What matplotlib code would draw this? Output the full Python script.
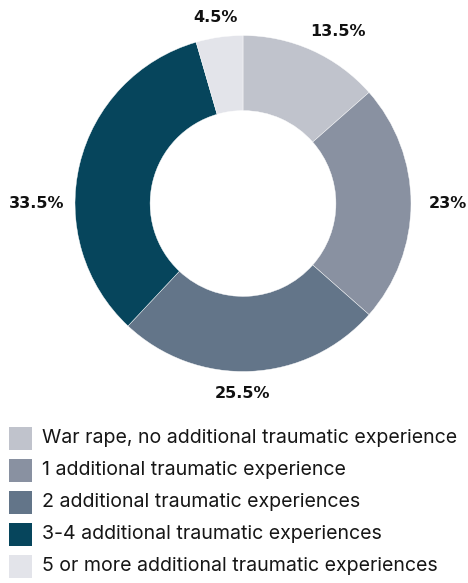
import matplotlib.pyplot as plt
import numpy as np
from matplotlib.patches import Rectangle

# Share of respondents by number of additional traumatic experiences
categories = [
    "War rape, no additional traumatic experience",
    "1 additional traumatic experience",
    "2 additional traumatic experiences",
    "3-4 additional traumatic experiences",
    "5 or more additional traumatic experiences",
]
shares = [13.5, 23, 25.5, 33.5, 4.5]
value_labels = ["13.5%", "23%", "25.5%", "33.5%", "4.5%"]
colors = ["#c0c3cc", "#8991a1", "#637589", "#06455c", "#e3e4ea"]

# label placement (angle in degrees, radius relative to outer ring)
label_angles = [61, 0, -90, 180, 98.5]
label_radius = [1.17, 1.22, 1.13, 1.23, 1.12]

W, H = 468, 583
fig = plt.figure(figsize=(W / 100, H / 100), dpi=100)

cx, cy, R = 243, 203.5, 168
ax = fig.add_axes([(cx - R) / W, (H - cy - R) / H, 2 * R / W, 2 * R / H])
ax.pie(
    shares,
    colors=colors,
    startangle=90,
    counterclock=False,
    radius=1,
    wedgeprops=dict(width=0.447, edgecolor="white", linewidth=0.3),
)
ax.set_xlim(-1, 1)
ax.set_ylim(-1, 1)
ax.set_aspect("equal")
ax.axis("off")

for text, ang, r in zip(value_labels, label_angles, label_radius):
    a = np.deg2rad(ang)
    ax.text(
        r * np.cos(a), r * np.sin(a), text,
        ha="center", va="center",
        fontsize=11.5, fontweight="bold", color="#111111",
        family="DejaVu Sans", clip_on=False,
    )

# legend drawn by hand: swatches and labels
row_y = 438
for name, color in zip(categories, colors):
    fig.patches.append(
        Rectangle((9 / W, (H - row_y - 11.5) / H), 23 / W, 23 / H,
                  transform=fig.transFigure, facecolor=color, edgecolor="none")
    )
    fig.text(42 / W, (H - row_y) / H, name, ha="left", va="center",
             fontsize=14.1, color="#161616", family="Inter")
    row_y += 32

fig.savefig("out.png", dpi=100)
